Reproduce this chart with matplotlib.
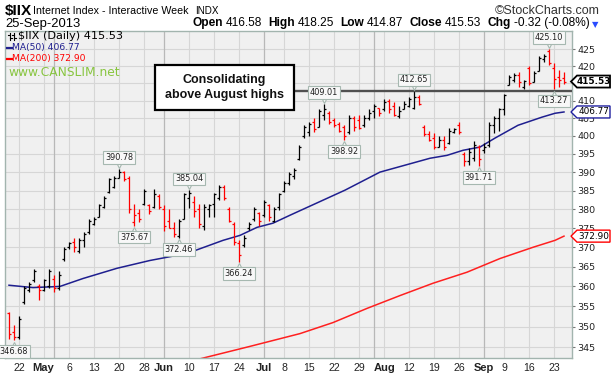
import matplotlib
matplotlib.use("Agg")
import matplotlib.pyplot as plt
import matplotlib.transforms as mtransforms
from matplotlib.patches import Polygon, Rectangle
from matplotlib.lines import Line2D
from matplotlib.collections import LineCollection
from matplotlib.ticker import FixedLocator, FixedFormatter, NullLocator
from matplotlib import font_manager
import numpy as np
import pandas as pd

# ---------------- data ----------------
holidays = ["2013-05-27", "2013-07-04", "2013-09-02"]
dates = [d.strftime("%Y-%m-%d") for d in pd.bdate_range("2013-04-18", "2013-09-25")
         if d.strftime("%Y-%m-%d") not in holidays]

opens = [353.3, 348.6, 347.5, 356.0, 359.0, 361.5, 360.0, 359.0, 360.0, 362.0,
         359.5, 367.0, 370.0, 371.5, 369.0, 372.0, 374.0, 376.0, 378.0, 380.5,
         384.5, 386.0, 388.5, 390.0, 388.5, 376.5, 379.0, 381.5, 381.0, 380.5,
         383.5, 380.0, 377.0, 375.0, 373.0, 377.5, 383.0, 382.0, 380.0, 375.5,
         380.0, 381.5, 383.0, 386.0, 380.0, 376.0, 371.0, 370.5, 375.0, 377.5,
         379.0, 378.5, 381.0, 377.0, 380.5, 385.0, 387.0, 389.0, 393.5, 400.0,
         401.0, 404.0, 402.5, 406.0, 406.5, 404.5, 403.5, 402.5, 401.0, 405.0,
         404.5, 403.0, 405.0, 407.0, 408.0, 407.5, 410.0, 408.5, 405.5, 407.5,
         408.5, 408.0, 411.0, 402.5, 400.5, 399.5, 397.0, 399.0, 398.0, 401.0,
         403.0, 395.0, 393.0, 394.0, 397.0, 396.0, 397.5, 403.0, 405.0, 407.5,
         414.5, 416.0, 417.5, 414.0, 419.5, 415.5, 418.5, 422.0, 424.5, 419.5,
         417.0, 416.58]
highs = [353.5, 350.5, 352.5, 360.0, 361.0, 364.5, 360.5, 362.0, 364.5, 363.0,
         364.0, 370.0, 371.5, 372.5, 372.5, 374.0, 377.5, 378.0, 381.5, 383.5,
         388.5, 389.0, 390.78, 390.3, 389.0, 381.5, 380.0, 385.5, 381.5, 385.5,
         384.0, 381.0, 380.0, 376.5, 377.5, 384.3, 385.04, 383.5, 381.5, 381.5,
         381.5, 384.3, 386.5, 386.5, 380.5, 376.5, 372.0, 373.2, 376.5, 380.5,
         379.3, 382.5, 381.3, 380.6, 384.3, 387.5, 390.0, 391.0, 397.5, 403.0,
         404.0, 405.0, 407.5, 409.01, 407.0, 405.0, 404.0, 403.0, 406.0, 405.5,
         406.0, 406.0, 407.5, 409.0, 408.0, 410.5, 410.5, 409.5, 408.5, 409.8,
         411.0, 412.65, 411.5, 403.0, 401.5, 400.8, 400.0, 400.0, 402.3, 402.3,
         403.8, 395.5, 396.5, 398.5, 397.5, 398.0, 403.8, 405.5, 408.0, 412.0,
         417.5, 418.0, 418.3, 416.0, 420.0, 418.5, 423.0, 423.6, 425.10, 421.0,
         419.0, 418.25]
lows = [347.0, 346.68, 347.0, 355.6, 358.5, 361.0, 356.5, 358.8, 359.7, 358.5,
        359.0, 366.5, 369.5, 368.7, 368.5, 370.0, 373.5, 375.7, 377.8, 380.3,
        384.3, 385.7, 388.3, 387.5, 379.0, 375.67, 376.5, 381.0, 378.8, 380.3,
        380.0, 374.3, 375.0, 372.7, 372.46, 377.5, 380.3, 378.0, 375.0, 374.5,
        378.0, 378.0, 382.5, 382.5, 376.5, 370.5, 366.24, 370.0, 374.6, 377.0,
        375.6, 378.0, 377.0, 376.5, 379.8, 384.5, 386.5, 388.0, 393.3, 399.5,
        400.0, 401.0, 402.5, 404.5, 403.5, 402.5, 401.0, 398.92, 400.5, 401.5,
        402.0, 402.5, 404.5, 405.0, 405.5, 407.0, 406.5, 405.5, 405.0, 407.5,
        408.3, 407.5, 408.8, 400.0, 398.5, 396.4, 396.8, 396.0, 397.8, 400.8,
        400.5, 391.8, 392.0, 393.0, 391.71, 395.2, 396.9, 400.8, 401.5, 406.0,
        414.5, 415.3, 414.0, 413.5, 414.5, 415.3, 418.5, 421.2, 420.5, 413.27,
        414.0, 414.87]
closes = [348.2, 347.5, 352.0, 359.5, 360.5, 364.0, 359.0, 361.5, 364.0, 359.5,
          363.0, 369.5, 371.0, 370.0, 372.0, 373.5, 377.0, 377.5, 381.0, 383.0,
          388.0, 388.5, 390.0, 388.0, 380.0, 378.5, 377.5, 385.0, 379.5, 384.0,
          380.5, 375.5, 375.0, 373.5, 377.0, 384.0, 384.3, 379.5, 376.0, 380.5,
          381.0, 384.0, 386.0, 383.0, 377.0, 371.5, 368.0, 372.5, 376.0, 380.0,
          377.0, 382.0, 378.0, 380.0, 384.0, 387.0, 389.5, 390.5, 397.0, 402.5,
          403.5, 402.0, 407.0, 407.5, 404.0, 403.0, 401.5, 400.0, 405.0, 402.5,
          402.2, 405.0, 406.5, 408.5, 406.5, 409.5, 407.5, 406.0, 407.0, 409.0,
          410.5, 411.0, 409.0, 400.5, 399.0, 397.0, 399.0, 397.0, 401.5, 402.0,
          401.0, 393.0, 395.5, 397.5, 393.5, 397.0, 403.0, 405.0, 407.5, 411.5,
          417.0, 417.5, 415.5, 415.8, 415.0, 418.0, 422.5, 423.0, 421.0, 416.2,
          415.85, 415.53]

ma50_idx = [0, 4.8, 10.2, 14.8, 21.6, 28.2, 35.6, 42.8, 46.2, 49.6, 52.8, 56.2,
            67.2, 74.2, 84.2, 87.6, 90.8, 94.2, 97.2, 101.8, 106.6, 109.2, 111]
ma50_val = [360.3, 359.7, 360.0, 362.0, 364.6, 366.6, 368.4, 371.8, 373.1, 375.2,
            376.3, 378.4, 385.1, 390.0, 393.8, 394.6, 396.0, 396.9, 399.4, 403.0,
            405.3, 406.4, 406.77]
ma200_idx = [38.2, 48.2, 58.2, 64.8, 71.6, 78.2, 84.8, 91.6, 98.2, 104.8, 109.2, 111]
ma200_val = [342.2, 345.2, 348.3, 351.0, 354.5, 357.7, 360.8, 363.6, 367.1, 370.0,
             371.8, 372.90]

week_dates = ["2013-04-22", "2013-05-06", "2013-05-13", "2013-05-20", "2013-05-28",
              "2013-06-10", "2013-06-17", "2013-06-24", "2013-07-08", "2013-07-15",
              "2013-07-22", "2013-07-29", "2013-08-12", "2013-08-19", "2013-08-26",
              "2013-09-09", "2013-09-16", "2013-09-23"]
week_labels = ["22", "6", "13", "20", "28", "10", "17", "24", "8", "15", "22", "29",
               "12", "19", "26", "9", "16", "23"]
month_dates = ["2013-05-01", "2013-06-03", "2013-07-01", "2013-08-01", "2013-09-03"]
month_labels = ["May", "Jun", "Jul", "Aug", "Sep"]
extra_grid_dates = ["2013-04-29", "2013-08-05"]

callout_vals = [346.68, 390.78, 375.67, 372.46, 385.04, 366.24, 409.01, 398.92,
                412.65, 391.71, 425.10, 413.27]
callout_dates = ["2013-04-19", "2013-05-20", "2013-05-23", "2013-06-06", "2013-06-10",
                 "2013-06-24", "2013-07-18", "2013-07-24", "2013-08-13", "2013-08-30",
                 "2013-09-20", "2013-09-23"]
callout_kind = ["low", "high", "low", "low", "high", "low", "high", "low",
                "high", "low", "high", "low"]

resistance_level = 412.65
y_ticks = list(range(345, 430, 5))
hidden_y_labels = [415]   # covered by the last-price tag

# ---------------- figure ----------------
W, H = 611, 375
fig = plt.figure(figsize=(W / 100, H / 100), dpi=100)
fig.patch.set_facecolor("white")
ax = fig.add_axes([5 / W, 17 / H, 567 / W, 327 / H])
ax.set_facecolor("#f0f0f0")
ax.set_yscale("log")
ax.set_ylim(342.4, 430.5)
ax.set_xlim(-0.8, 112.6)

names = {f.name for f in font_manager.fontManager.ttflist}
has_narrow = "Liberation Sans Narrow" in names
narrow = "Liberation Sans Narrow" if has_narrow else "Liberation Sans"
title_size = 9 if has_narrow else 7.7

# grid
grid_c = "#d6d6d6"
for v in y_ticks:
    ax.axhline(v, color=grid_c, lw=0.8, zorder=0)
for d in week_dates + extra_grid_dates:
    ax.axvline(dates.index(d), color=grid_c, lw=0.8, zorder=0)
for d in month_dates:
    ax.axvline(dates.index(d), color="#b8b8b8", lw=0.9, zorder=0)

# MA lines
ax.plot(ma50_idx, ma50_val, color="#1f1f8f", lw=1.1, zorder=2)
ax.plot(ma200_idx, ma200_val, color="#ff2020", lw=1.1, zorder=2)

# OHLC bars
n = len(closes)
prev = [opens[0]] + closes[:-1]
cols = ["#000000" if c >= p else "#ff0000" for c, p in zip(closes, prev)]
segs, segc = [], []
for i in range(n):
    segs += [[(i, lows[i]), (i, highs[i])],
             [(i - 0.42, opens[i]), (i, opens[i])],
             [(i, closes[i]), (i + 0.42, closes[i])]]
    segc += [cols[i]] * 3
ax.add_collection(LineCollection(segs, colors=segc, linewidths=0.9, zorder=3))

# resistance line (from annotation box to right edge)
ax.plot([57, 112.6], [resistance_level, resistance_level], color="#505050", lw=1.7,
        zorder=4, solid_capstyle="butt")

# callouts
box_fc, box_ec = "#f8f8f8", "#a6b8b0"
for d, v, k in zip(callout_dates, callout_vals, callout_kind):
    i = dates.index(d)
    s = 1 if k == "high" else -1
    tf = mtransforms.offset_copy(ax.transData, fig=fig, x=0, y=s * 5.5, units="dots")
    ax.plot([i], [v], marker="v" if s > 0 else "^", ms=5.5, mfc=box_fc, mec=box_ec,
            mew=0.8, transform=tf, zorder=6, clip_on=False)
    ax.annotate(f"{v:.2f}", xy=(i, v), xytext=(0, s * 11.5), textcoords="offset pixels",
                ha="center", va="center", fontsize=5.9, color="#202020",
                family="DejaVu Sans",
                bbox=dict(boxstyle="square,pad=0.22", fc=box_fc, ec=box_ec, lw=0.8),
                zorder=7, annotation_clip=False)

# axes styling
for sp in ax.spines.values():
    sp.set_color("#a2b4ae")
    sp.set_linewidth(1.0)
ax.yaxis.tick_right()
ax.yaxis.set_major_locator(FixedLocator(y_ticks))
ax.yaxis.set_major_formatter(FixedFormatter(
    ["" if v in hidden_y_labels else str(v) for v in y_ticks]))
ax.yaxis.set_minor_locator(NullLocator())
ax.tick_params(axis="y", which="major", length=2.5, width=0.8, color="#777777",
               pad=1.5, labelsize=6.8, labelcolor="#222222")
for t in ax.get_yticklabels():
    t.set_family("DejaVu Sans")

xt = [dates.index(d) for d in week_dates] + [dates.index(d) for d in month_dates]
xl = week_labels + month_labels
ax.set_xticks(xt)
ax.set_xticklabels(xl)
ax.tick_params(axis="x", length=0, pad=3.5, labelsize=7.6, labelcolor="#222222")
for t in ax.get_xticklabels():
    t.set_family("Liberation Sans")
    if t.get_text() in month_labels:
        t.set_fontweight("bold")
        t.set_fontsize(8)
for t in ax.get_xticklabels():
    if t.get_text() == "May":
        t.set_horizontalalignment("right")
        t.set_x(dates.index("2013-05-01") + 1.3)
    if t.get_text() == "Aug":
        t.set_horizontalalignment("left")
        t.set_x(dates.index("2013-08-01") - 1.1)

ID = mtransforms.IdentityTransform()


def fy(ytop):
    return 1 - ytop / H


# right-hand value tags
def tag(v, text, ec, bold, lw):
    ypx = ax.transData.transform((0, v))[1]
    h = 6.0
    poly = Polygon([(571, ypx), (577, ypx + h), (610, ypx + h), (610, ypx - h),
                    (577, ypx - h)], closed=True, fc="white", ec=ec, lw=lw,
                   transform=ID, zorder=10)
    fig.add_artist(poly)
    fig.text(594 / W, ypx / H, text, ha="center", va="center", fontsize=6.4,
             fontweight="bold" if bold else "normal", color="black",
             family="DejaVu Sans", zorder=11)


tag(closes[-1], f"{closes[-1]:.2f}", "black", True, 1.3)
tag(ma50_val[-1], f"{ma50_val[-1]:.2f}", "#1f1f9f", False, 1.0)
tag(ma200_val[-1], f"{ma200_val[-1]:.2f}", "#ff0000", False, 1.0)

# annotation box
fig.add_artist(Rectangle((155, H - 110), 139, 45, fc="white", ec="black", lw=1.6,
                         transform=ID, zorder=10))
fig.text(224.5 / W, fy(87.5), "Consolidating\nabove August highs", ha="center",
         va="center", fontsize=9, fontweight="bold", family="Liberation Sans",
         linespacing=1.25, color="#111111", zorder=11)

# legend inside plot
for bx in (10, 14):
    fig.add_artist(Line2D([bx, bx], [H - 33, H - 40], color="black", lw=0.8, transform=ID))
    fig.add_artist(Line2D([bx - 2, bx], [H - 35, H - 35], color="black", lw=0.8, transform=ID))
    fig.add_artist(Line2D([bx, bx + 2], [H - 38, H - 38], color="black", lw=0.8, transform=ID))
fig.text(18 / W, fy(36), "$IIX (Daily) 415.53", ha="left", va="center", fontsize=8.1,
         family="DejaVu Sans", color="black")
fig.add_artist(Line2D([7, 12], [H - 47.5, H - 47.5], color="#1f1f8f", lw=1.6, transform=ID))
fig.text(12 / W, fy(47.5), f"MA(50) {ma50_val[-1]:.2f}", ha="left", va="center",
         fontsize=6.6, family="DejaVu Sans", color="#1f1f8f")
fig.add_artist(Line2D([7, 12], [H - 59, H - 59], color="#ff0000", lw=1.6, transform=ID))
fig.text(12 / W, fy(59), f"MA(200) {ma200_val[-1]:.2f}", ha="left", va="center",
         fontsize=6.6, family="DejaVu Sans", color="#ff0000")
fig.text(8 / W, fy(72), "www.CANSLIM.net", ha="left", va="center", fontsize=8.8,
         family="DejaVu Sans", color="#88c540")

# header
fig.text(5 / W, fy(14.5), "$IIX", ha="left", va="baseline", fontsize=11,
         fontweight="bold", family="Liberation Sans", color="black")
fig.text(33 / W, fy(14), "Internet Index - Interactive Week", ha="left", va="baseline",
         fontsize=title_size, family=narrow, color="black")
fig.text(195 / W, fy(14), "INDX", ha="left", va="baseline", fontsize=title_size - 0.6,
         family=narrow, color="black")
fig.text(600 / W, fy(14), "\u00a9StockCharts.com", ha="right", va="baseline",
         fontsize=9, family=narrow, color="#333333")
fig.text(5 / W, fy(27.5), "25-Sep-2013", ha="left", va="baseline", fontsize=9.4,
         family=narrow, color="black")

items = [("Open", True), (f"{opens[-1]:.2f}", False), ("High", True),
         (f"{highs[-1]:.2f}", False), ("Low", True), (f"{lows[-1]:.2f}", False),
         ("Close", True), (f"{closes[-1]:.2f}", False), ("Chg", True),
         (f"{closes[-1] - closes[-2]:.2f} ({(closes[-1] - closes[-2]) / closes[-2] * 100:.2f}%)", False)]
prev_t = fig.text(598 / W, fy(27), "\u25bc", ha="right", va="baseline", fontsize=6,
                  family="DejaVu Sans", color="#2a4cff")
first = True
for s, b in reversed(items):
    gap = 2 if first else (3 if b else 6)
    prev_t = ax.annotate(s, xy=(0, 0), xycoords=prev_t, xytext=(-gap, 0),
                         textcoords="offset pixels", ha="right", va="bottom",
                         fontsize=8.6, fontweight="bold" if b else "normal",
                         family=narrow, color="black", annotation_clip=False)
    first = False

fig.savefig("out.png", dpi=100, facecolor="white")
